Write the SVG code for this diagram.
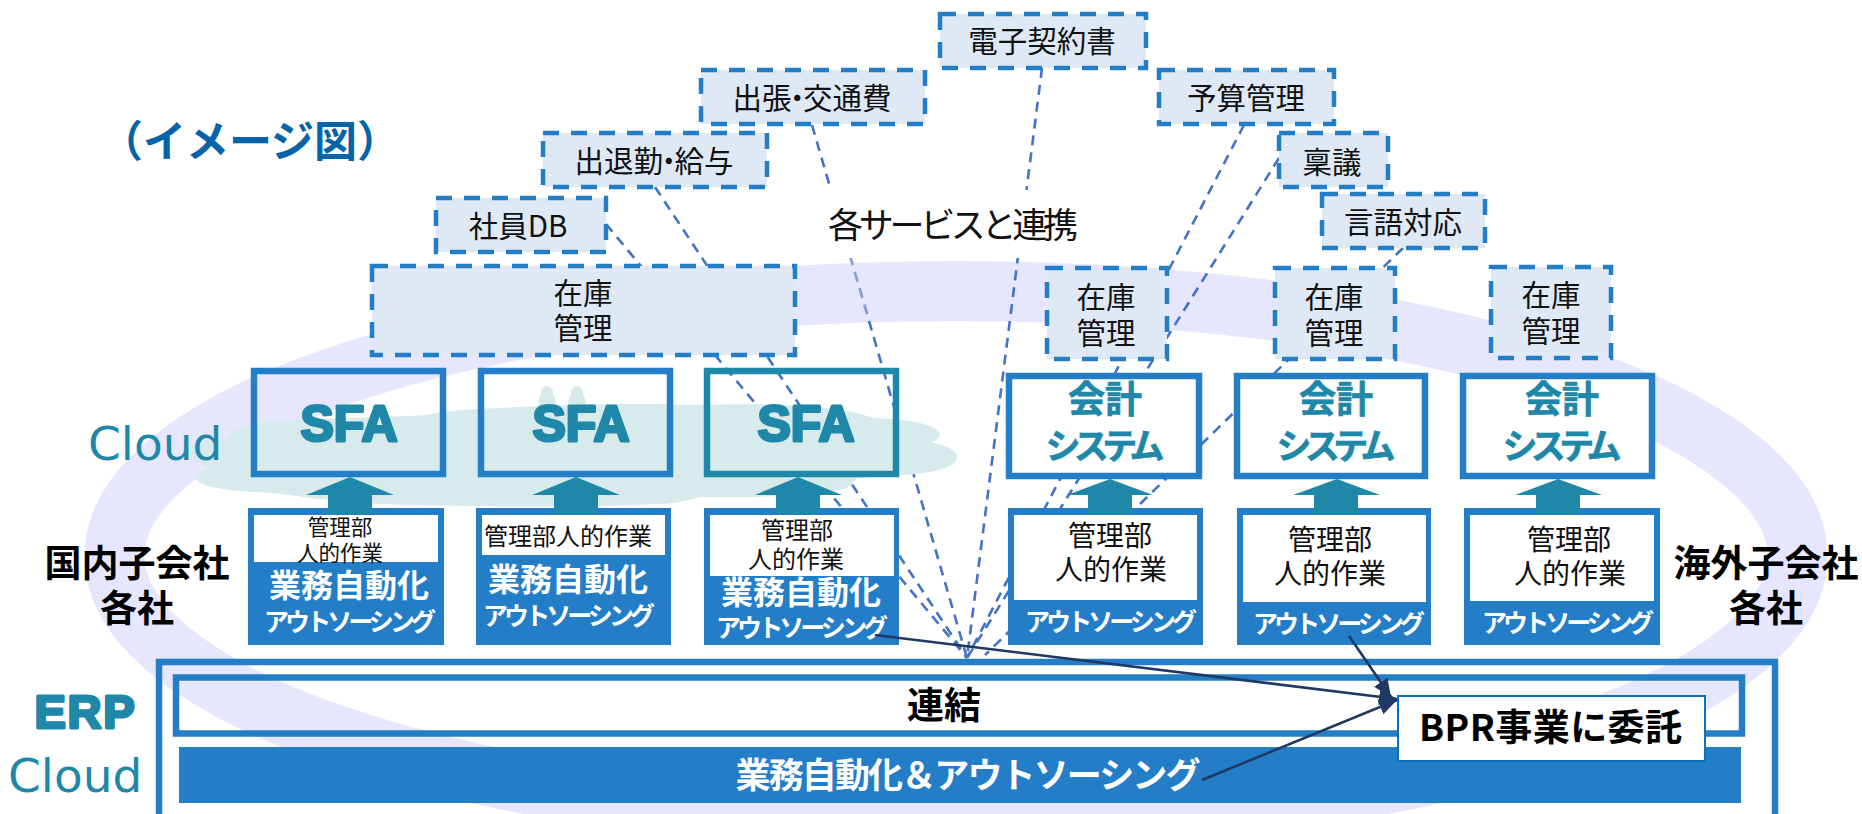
<svg xmlns="http://www.w3.org/2000/svg" width="1862" height="814" viewBox="0 0 1862 814">
<style>
text { font-family: "Noto Sans CJK JP", "Noto Sans", sans-serif; text-anchor: middle; fill: #111; }
.svc { fill: #DEE9F5; stroke: #247DC7; stroke-width: 4.5; stroke-dasharray: 16 12; }
.t29 { font-size: 29.5px; }
.frame { fill: none; stroke: #247DC7; stroke-width: 6.5; }
.frame-w { fill: #fff; stroke: #247DC7; stroke-width: 6.5; }
.solid { fill: #247DC7; }
.paper { fill: #fff; }
.up { fill: #1F88A8; }
.w { fill: #fff; font-weight: 700; }
.k { fill: #000; font-weight: 700; }
.brand { font-family: "Liberation Sans", Arial, sans-serif; font-weight: 700; fill: #1F88A8; stroke: #1F88A8; stroke-width: 3; stroke-linejoin: round; }
.tl { fill: #1F88A8; font-weight: 700; stroke: #1F88A8; stroke-width: .7; }
.cl { font-family: "DejaVu Sans", sans-serif; font-size: 47px; fill: #1F88A8; text-anchor: start; }
.dash { stroke: #4472C4; stroke-width: 2.6; stroke-dasharray: 10 7; fill: none; }
.navy { stroke: #1F3864; stroke-width: 2.6; fill: none; marker-end: url(#head); }
</style>
<defs>
<marker id="head" markerUnits="userSpaceOnUse" markerWidth="20" markerHeight="18" refX="18" refY="8" orient="auto">
<path d="M0 0L18 8L0 16Z" fill="#1F3864"/>
</marker>
</defs>

<rect width="1862" height="814" fill="#fff"/>

<!-- background ring -->
<ellipse cx="956" cy="556" rx="841.5" ry="265" fill="none" stroke="#E6E6FF" stroke-width="60"/>

<!-- dashed links fanning out from the ERP hub -->
<g id="connectors-services">
<line class="dash" x1="1042" y1="68" x2="967" y2="658"/>
<line class="dash" x1="812" y1="125" x2="967" y2="658"/>
<line class="dash" x1="655" y1="187" x2="967" y2="658"/>
<line class="dash" x1="606" y1="224" x2="967" y2="658"/>
<line class="dash" x1="1244" y1="125" x2="967" y2="658"/>
<line class="dash" x1="1279" y1="158" x2="967" y2="658"/>
<line class="dash" x1="1403" y1="248" x2="985" y2="655"/>
<line x1="851" y1="258" x2="867.5" y2="320" stroke="#E6E6FF" stroke-opacity=".4" stroke-width="3.5"/>
</g>

<g id="label-link">
<rect x="820" y="190" width="265" height="68" fill="#fff"/>
<text x="953" y="238" font-size="35" textLength="250">各サービスと連携</text>
</g>

<!-- cloud behind the SFA row -->
<g id="cloud" fill="#D8EBEC">
<path d="M187 447C200 440 215 440 228 439C232 428 250 424 270 422C320 417 380 418 427 415C440 411 470 409 520 407C580 404 640 403 690 405C760 403 840 404 873 418C905 419 940 424 940 435C940 438 935 441 930 442C945 445 957 450 957 457C957 468 930 474 900 475L857 478C852 484 850 486 847 488C830 493 815 493 800 493C780 497 760 497 747 497L700 497C680 503 660 505 652 504C600 507 530 507 474 506C410 506 340 503 297 496C270 492 250 492 237 491C210 488 194 483 196 477C197 473 205 469 215 467C205 467 187 460 187 447Z"/>
<circle cx="547" cy="392" r="6"/><ellipse cx="547" cy="403" rx="9" ry="11"/>
<circle cx="577" cy="392" r="6"/><ellipse cx="577" cy="403" rx="9" ry="11"/>
</g>

<g id="title"><text x="250" y="157" font-size="43" font-weight="700" style="fill:#0563A8">（イメージ図）</text></g>
<g id="label-cloud"><text class="cl" x="88" y="460">Cloud</text></g>
<g id="label-domestic">
<text class="k" x="137" y="577" font-size="37">国内子会社</text>
<text class="k" x="137" y="622" font-size="37">各社</text>
</g>
<g id="label-overseas">
<text class="k" x="1766" y="577" font-size="37">海外子会社</text>
<text class="k" x="1766" y="622" font-size="37">各社</text>
</g>

<!-- services -->
<g id="svc-contract"><rect class="svc" x="940" y="14" width="206" height="54"/><text class="t29" x="1042" y="52">電子契約書</text></g>
<g id="svc-travel"><rect class="svc" x="701" y="70" width="224" height="54"/><text class="t29" x="812" y="109">出張<tspan dx="-9">・</tspan><tspan dx="-9">交通費</tspan></text></g>
<g id="svc-budget"><rect class="svc" x="1159" y="70" width="175" height="54"/><text class="t29" x="1246" y="109">予算管理</text></g>
<g id="svc-attendance"><rect class="svc" x="543" y="133" width="224" height="54"/><text class="t29" x="654" y="172">出退勤<tspan dx="-9">・</tspan><tspan dx="-9">給与</tspan></text></g>
<g id="svc-approval"><rect class="svc" x="1279" y="133" width="109" height="54"/><text class="t29" x="1332" y="173">稟議</text></g>
<g id="svc-language"><rect class="svc" x="1322" y="194" width="163" height="54"/><text class="t29" x="1403" y="233">言語対応</text></g>
<g id="svc-employee"><rect class="svc" x="436" y="198" width="170" height="54"/><text class="t29" x="518" y="237">社員DB</text></g>

<!-- inventory modules -->
<g id="stock-a"><rect class="svc" x="372" y="266" width="423" height="89"/><text class="t29" x="583" y="304">在庫</text><text class="t29" x="583" y="339">管理</text></g>
<g id="stock-b"><rect class="svc" x="1047" y="268" width="120" height="91"/><text class="t29" x="1106" y="308">在庫</text><text class="t29" x="1106" y="344">管理</text></g>
<g id="stock-c"><rect class="svc" x="1275" y="268" width="120" height="91"/><text class="t29" x="1334" y="308">在庫</text><text class="t29" x="1334" y="344">管理</text></g>
<g id="stock-d"><rect class="svc" x="1491" y="267" width="120" height="91"/><text class="t29" x="1551" y="306">在庫</text><text class="t29" x="1551" y="342">管理</text></g>

<!-- domestic companies -->
<g id="sfa-1"><rect class="frame" x="254" y="371" width="189" height="103"/><text class="brand" x="349" y="441" font-size="50">SFA</text></g>
<g id="sfa-2"><rect class="frame" x="481" y="371" width="189" height="103"/><text class="brand" x="581" y="441" font-size="50">SFA</text></g>
<g id="sfa-3"><rect class="frame" x="707" y="371" width="189" height="103" style="stroke:#1F88A8"/><text class="brand" x="806" y="441" font-size="50">SFA</text></g>

<g id="dom-1">
<rect class="solid" x="248" y="508" width="196" height="137"/><rect class="paper" x="254" y="515" width="184" height="47"/>
<path class="up" d="M350 477L394 495H372V514H328V495H306Z"/>
<text x="340" y="535" font-size="21.5">管理部</text><text x="340" y="561" font-size="21.5">人的作業</text>
<text class="w" x="349" y="597" font-size="32">業務自動化</text>
<text class="w" x="350" y="631" font-size="25" textLength="172">アウトソーシング</text>
</g>
<g id="dom-2">
<rect class="solid" x="476" y="508" width="195" height="137"/><rect class="paper" x="482" y="515" width="183" height="40"/>
<path class="up" d="M576 477L620 495H598V514H554V495H532Z"/>
<text x="568" y="545" font-size="24">管理部人的作業</text>
<text class="w" x="568" y="591" font-size="32">業務自動化</text>
<text class="w" x="569" y="625" font-size="25" textLength="172">アウトソーシング</text>
</g>
<g id="dom-3">
<rect class="solid" x="704" y="508" width="195" height="137"/><rect class="paper" x="710" y="515" width="184" height="61"/>
<path class="up" d="M798 477L842 495H820V514H776V495H755Z"/>
<text x="797" y="539" font-size="24">管理部</text><text x="796" y="568" font-size="24">人的作業</text>
<text class="w" x="801" y="604" font-size="32">業務自動化</text>
<text class="w" x="802" y="637" font-size="25" textLength="172">アウトソーシング</text>
</g>

<!-- overseas companies -->
<g id="acc-1"><rect class="frame-w" x="1009" y="376" width="190" height="100"/><text class="tl" x="1105" y="413" font-size="37">会計</text><text class="tl" x="1105" y="459" font-size="35" textLength="119">システム</text></g>
<g id="acc-2"><rect class="frame-w" x="1237" y="376" width="188" height="100"/><text class="tl" x="1336" y="413" font-size="37">会計</text><text class="tl" x="1336" y="459" font-size="35" textLength="119">システム</text></g>
<g id="acc-3"><rect class="frame-w" x="1463" y="376" width="189" height="100"/><text class="tl" x="1562" y="413" font-size="37">会計</text><text class="tl" x="1562" y="459" font-size="35" textLength="119">システム</text></g>

<g id="ovs-1">
<rect class="solid" x="1008" y="508" width="195" height="137"/><rect class="paper" x="1014" y="515" width="183" height="85"/>
<path class="up" d="M1110 479L1153 495H1132V514H1088V495H1067Z"/>
<text x="1110" y="546" font-size="28">管理部</text><text x="1111" y="580" font-size="28">人的作業</text>
<text class="w" x="1111" y="631" font-size="25" textLength="172">アウトソーシング</text>
</g>
<g id="ovs-2">
<rect class="solid" x="1237" y="508" width="194" height="137"/><rect class="paper" x="1243" y="515" width="183" height="87"/>
<path class="up" d="M1337 479L1380 495H1358V514H1314V495H1293Z"/>
<text x="1330" y="550" font-size="28">管理部</text><text x="1330" y="584" font-size="28">人的作業</text>
<text class="w" x="1339" y="633" font-size="25" textLength="172">アウトソーシング</text>
</g>
<g id="ovs-3">
<rect class="solid" x="1464" y="508" width="196" height="137"/><rect class="paper" x="1470" y="515" width="184" height="86"/>
<path class="up" d="M1558 479L1602 495H1580V514H1536V495H1515Z"/>
<text x="1569" y="550" font-size="28">管理部</text><text x="1570" y="584" font-size="28">人的作業</text>
<text class="w" x="1568" y="632" font-size="25" textLength="172">アウトソーシング</text>
</g>

<!-- ERP platform -->
<g id="erp">
<text class="brand" x="84.5" y="727.5" font-size="47" textLength="100">ERP</text>
<text class="cl" x="8" y="792">Cloud</text>
<rect class="frame" x="159" y="662" width="1616" height="170"/>
<rect class="frame" x="176" y="677.5" width="1566" height="56"/>
<text class="k" x="944" y="719" font-size="37">連結</text>
<rect class="solid" x="179" y="747" width="1562" height="56"/>
<text class="w" x="968" y="788" font-size="35" textLength="465">業務自動化＆アウトソーシング</text>
</g>

<g id="bpr">
<rect x="1398" y="696" width="307" height="65" fill="#fff" stroke="#0A70C0" stroke-width="2"/>
<text class="k" x="1550.5" y="741" font-size="37" textLength="263">BPR事業に委託</text>
</g>

<!-- hand-over arrows into BPR -->
<g id="connectors-bpr">
<line class="navy" x1="875" y1="635" x2="1397" y2="699"/>
<line class="navy" x1="1349" y1="636" x2="1391" y2="697"/>
<line class="navy" x1="1202" y1="780" x2="1397" y2="700"/>
</g>
</svg>
